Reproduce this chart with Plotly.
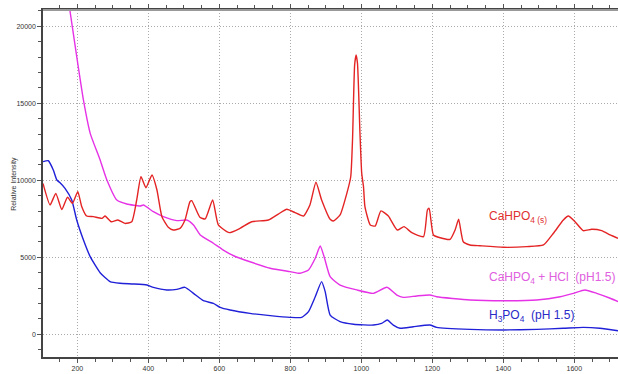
import plotly.graph_objects as go

# CaHPO4(s)
red_x = [103, 123, 139, 156, 172, 186, 201, 212, 226, 245, 269, 278, 295, 314, 334, 353, 367, 379, 393, 410,
         424, 438, 456, 470, 489, 503, 517, 522, 545, 560, 581, 597, 628, 658, 691, 738, 766, 790, 813, 837,
         855, 872, 888, 912, 921, 940, 959, 970, 975, 981, 985, 989, 996, 1001, 1006, 1010, 1025, 1039, 1055,
         1076, 1101, 1120, 1142, 1175, 1186, 1191, 1203, 1222, 1250, 1264, 1274, 1287, 1306, 1334, 1400, 1466,
         1513, 1541, 1569, 1583, 1602, 1625, 1649, 1677, 1701, 1723]
red_y = [9800, 8400, 9150, 8100, 8900, 8500, 9260, 8300, 7680, 7640, 7530, 7680, 7310, 7420, 7200, 7310, 8720,
         10230, 9520, 10340, 9370, 7640, 6950, 6770, 6880, 7420, 8610, 8680, 7600, 7490, 8720, 7100, 6600, 6880,
         7310, 7420, 7810, 8120, 7900, 7680, 8400, 9870, 8720, 7470, 7360, 7750, 9150, 10230, 12600, 17500,
         18140, 17600, 13070, 10450, 9580, 8290, 7100, 7030, 8010, 7680, 6770, 6990, 6600, 6340, 8070, 8180,
         6450, 6270, 6170, 6770, 7470, 6010, 5800, 5750, 5650, 5690, 5800, 6560, 7420, 7680, 7310, 6730, 6820,
         6730, 6450, 6230]

# CaHPO4 + HCl (pH1.5)
mag_x = [165, 179, 198, 217, 236, 264, 283, 311, 339, 377, 386, 414, 442, 480, 508, 527, 546, 583, 611, 640,
         686, 743, 799, 827, 851, 870, 884, 895, 912, 940, 987, 1034, 1072, 1100, 1118, 1156, 1193, 1212, 1306,
         1400, 1494, 1560, 1597, 1630, 1663, 1701, 1723]
mag_y = [23000, 21000, 18030, 15200, 13050, 11320, 10020, 8720, 8460, 8330, 8400, 7960, 7640, 7380, 7420, 7100,
         6450, 5910, 5470, 5100, 4710, 4290, 4070, 3960, 4180, 4940, 5730, 5040, 3740, 3200, 2880, 2660, 3050,
         2550, 2400, 2490, 2550, 2440, 2230, 2180, 2230, 2440, 2660, 2880, 2660, 2340, 2120]

# H3PO4 (pH 1.5)
blue_x = [103, 118, 132, 142, 151, 165, 184, 198, 217, 236, 264, 292, 320, 358, 396, 414, 452, 480, 503, 527,
          555, 583, 602, 630, 686, 743, 799, 832, 851, 870, 888, 898, 912, 940, 978, 1034, 1057, 1073, 1090,
          1109, 1146, 1193, 1212, 1306, 1400, 1494, 1569, 1625, 1672, 1723]
blue_y = [11210, 11270, 10670, 10020, 9840, 9480, 8720, 7420, 6120, 5040, 4000, 3420, 3310, 3270, 3200, 3050,
          2880, 2920, 3050, 2660, 2180, 2010, 1750, 1580, 1360, 1210, 1100, 1100, 1470, 2440, 3420, 2770, 1250,
          820, 650, 600, 710, 930, 600, 390, 490, 600, 450, 320, 280, 320, 390, 450, 390, 230]

x_ticks = [200, 400, 600, 800, 1000, 1200, 1400, 1600]
y_ticks = [0, 5000, 10000, 15000, 20000]
y_labels = ["0", "5000", "10000", "15000", "20000"]

FONT = "Liberation Sans, Arial"

fig = go.Figure()
for xs, ys, col, name in [(blue_x, blue_y, "#2020d8", "H3PO4"),
                          (mag_x, mag_y, "#e632e6", "CaHPO4 + HCl"),
                          (red_x, red_y, "#e42424", "CaHPO4(s)")]:
    fig.add_trace(go.Scatter(x=xs, y=ys, mode="lines", name=name,
                             line=dict(color=col, width=1.4, shape="spline", smoothing=0.5)))

fig.add_annotation(x=1354, y=7617, text="CaHPO<sub>4 (s)</sub>", showarrow=False, xanchor="left",
                   font=dict(family=FONT, size=12, color="#e03030"))
fig.add_annotation(x=1354, y=3656, text="CaHPO<sub>4</sub> + HCl  (pH1.5)", showarrow=False, xanchor="left",
                   font=dict(family=FONT, size=12, color="#e060e0"))
fig.add_annotation(x=1354, y=1188, text="H<sub>3</sub>PO<sub>4</sub>  (pH 1.5)", showarrow=False, xanchor="left",
                   font=dict(family=FONT, size=12, color="#2a2ac8"))

fig.add_annotation(xref="paper", yref="paper", x=0.51, y=-0.055, yanchor="top", text="Raman Shift (cm-1)",
                   showarrow=False, font=dict(family=FONT, size=7, color="#333"))
fig.add_annotation(xref="paper", yref="paper", x=-0.062, y=0.5, textangle=-90, text="Relative Intensity",
                   showarrow=False, font=dict(family=FONT, size=7, color="#333"))

fig.add_shape(type="line", xref="paper", yref="paper", x0=0, x1=1, y0=1, y1=1,
              line=dict(color="#999", width=2))

fig.update_layout(
    width=618, height=374, margin=dict(l=43, r=0, t=10, b=17),
    paper_bgcolor="white", plot_bgcolor="white", showlegend=False,
    font=dict(family=FONT, size=7, color="#333"),
)
fig.update_xaxes(range=[103, 1723], tickvals=x_ticks, ticks="outside", ticklen=4, tickcolor="#555",
                 showline=True, linecolor="#444", linewidth=1.5, mirror="allticks",
                 showgrid=True, gridcolor="#aaa", griddash="1px,2px", gridwidth=1, zeroline=False,
                 minor=dict(dtick=50, tick0=0, ticks="outside", ticklen=3, tickcolor="#555", showgrid=False),
                 tickfont=dict(size=7, color="#333"))
fig.update_yaxes(range=[-1475, 21060], tickvals=y_ticks, ticktext=y_labels, ticks="outside", ticklen=4,
                 tickcolor="#555", showline=True, linecolor="#444", linewidth=1.5,
                 showgrid=True, gridcolor="#aaa", griddash="1px,2px", gridwidth=1, zeroline=False,
                 minor=dict(dtick=1000, tick0=0, ticks="outside", ticklen=3, tickcolor="#555", showgrid=False),
                 tickfont=dict(size=7, color="#333"))

fig.write_html("out.html", config={"displayModeBar": False},
               post_script="document.body.style.margin='0';document.body.style.overflow='hidden';")
